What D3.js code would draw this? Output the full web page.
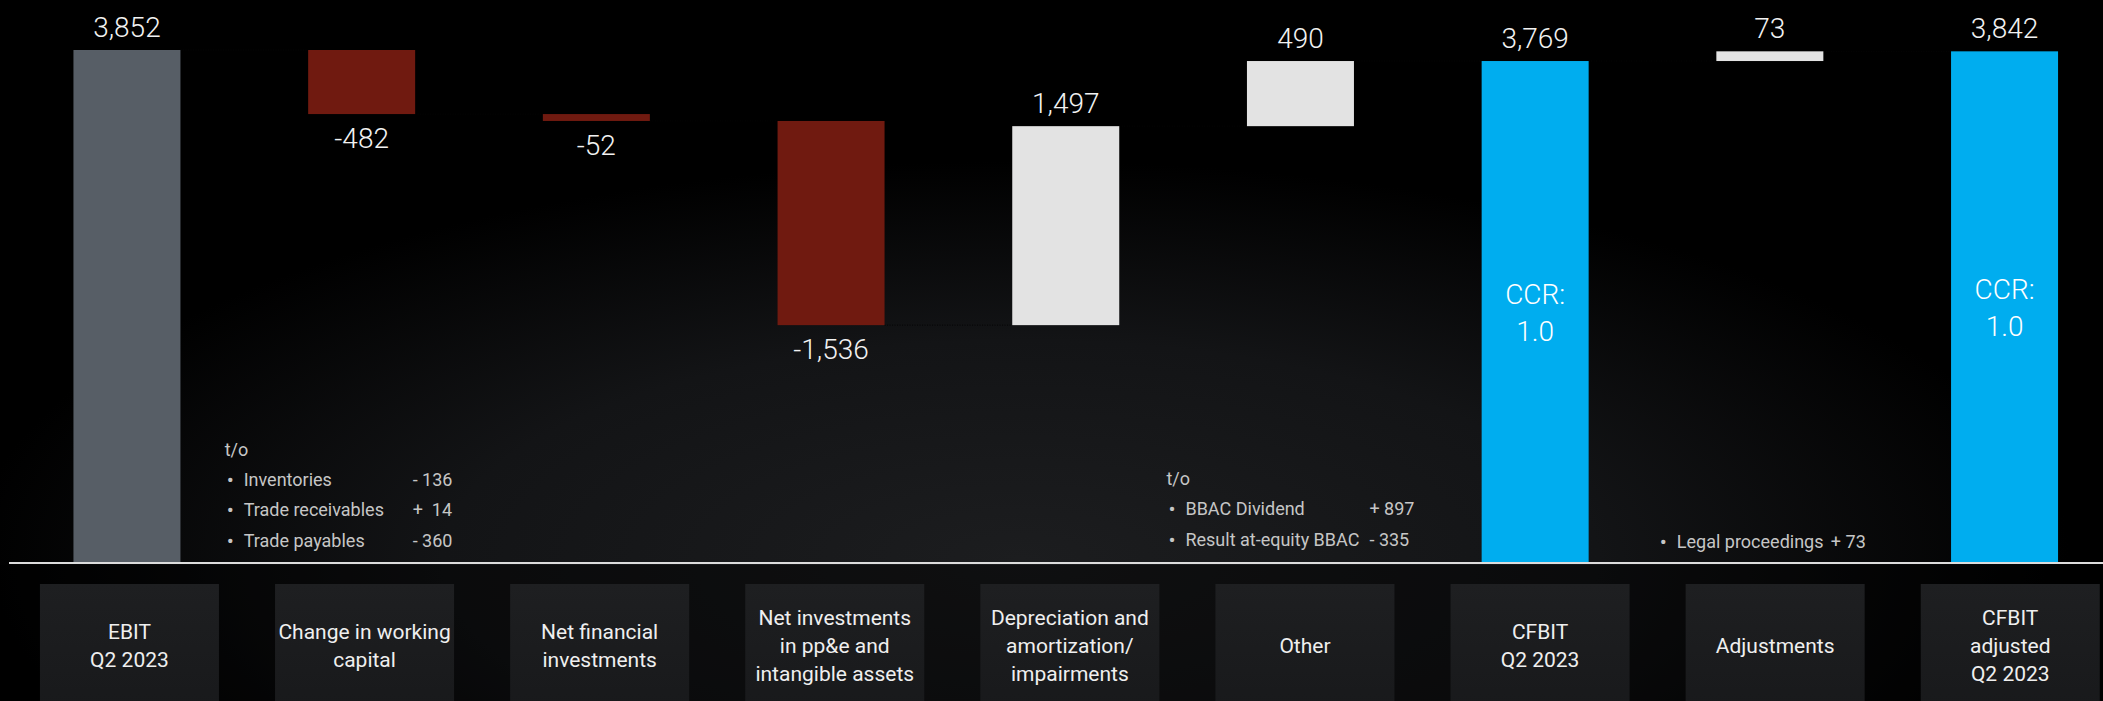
<!DOCTYPE html>
<html>
<head>
<meta charset="utf-8">
<script src="https://cdn.jsdelivr.net/npm/d3@7.9.0/dist/d3.min.js"></script>
<style>
  body { margin: 0; background: #000; overflow: hidden; }
  text { font-family: Roboto, "Liberation Sans", sans-serif; }
</style>
</head>
<body>
<svg id="chart" width="2103" height="701"></svg>
<script>
// waterfall steps
const categories = ["ebit", "wc", "fin", "capex", "da", "other", "cfbit", "adj", "cfbitAdj"];
const categoryLines = [
  ["EBIT", "Q2 2023"],
  ["Change in working", "capital"],
  ["Net financial", "investments"],
  ["Net investments", "in pp&e and", "intangible assets"],
  ["Depreciation and", "amortization/", "impairments"],
  ["Other"],
  ["CFBIT", "Q2 2023"],
  ["Adjustments"],
  ["CFBIT", "adjusted", "Q2 2023"]
];
const values = [3852, -482, -52, -1536, 1497, 490, 3769, 73, 3842];
const kinds = ["start", "neg", "neg", "neg", "pos", "pos", "total", "pos", "total"];
const ccrLines = ["CCR:", "1.0"];

// "t/o" side notes
const wcNoteLabels = ["Inventories", "Trade receivables", "Trade payables"];
const wcNoteValues = ["- 136", "+  14", "- 360"];
const otherNoteLabels = ["BBAC Dividend", "Result at-equity BBAC"];
const otherNoteValues = ["+ 897", "- 335"];
const adjNoteLabels = ["Legal proceedings"];
const adjNoteValues = ["+ 73"];

const W = 2103, H = 701;
const svg = d3.select("#chart");
const defs = svg.append("defs");

// background glow
const glow = defs.append("radialGradient")
  .attr("id", "glow")
  .attr("gradientUnits", "userSpaceOnUse")
  .attr("cx", 1020).attr("cy", 560).attr("r", 1050)
  .attr("gradientTransform", "translate(1020,560) scale(1,0.38) translate(-1020,-560)");
glow.append("stop").attr("offset", 0).attr("stop-color", "#1c1d1f");
glow.append("stop").attr("offset", 0.55).attr("stop-color", "#131416");
glow.append("stop").attr("offset", 1).attr("stop-color", "#000");

const boxGrad = defs.append("linearGradient")
  .attr("id", "boxGrad").attr("x1", 0).attr("y1", 0).attr("x2", 0).attr("y2", 1);
boxGrad.append("stop").attr("offset", 0).attr("stop-color", "#1e1f21");
boxGrad.append("stop").attr("offset", 1).attr("stop-color", "#18191b");

svg.append("rect").attr("width", W).attr("height", H).attr("fill", "#000");
svg.append("rect").attr("width", W).attr("height", H).attr("fill", "url(#glow)");
svg.append("rect").attr("y", 565).attr("width", W).attr("height", H - 565)
  .attr("fill", "#000").attr("opacity", 0.45);

const x = d3.scaleBand().domain(categories).range([9.6, 9.6 + 9 * 234.7]).padding(0);
const y = d3.scaleLinear().domain([0, 3852]).range([562, 50]);
const barW = 107, boxW = 179;
const cx = d => x(d) + x.bandwidth() / 2;

// build waterfall
let running = 0;
const steps = categories.map((c, i) => {
  let y0, y1;
  if (kinds[i] === "start" || kinds[i] === "total") {
    y0 = 0; y1 = values[i]; running = values[i];
  } else {
    y0 = running; y1 = running + values[i]; running = y1;
  }
  return { key: c, value: values[i], kind: kinds[i], y0, y1, end: running };
});

const colors = { start: "#575e66", neg: "#701a10", pos: "#e3e3e3", total: "#00adef" };

// connectors (dark dotted, only visible against the glow)
svg.append("g").selectAll("line")
  .data(steps.slice(0, -1))
  .join("line")
  .attr("x1", d => cx(d.key) + barW / 2)
  .attr("x2", (d, i) => cx(steps[i + 1].key) - barW / 2)
  .attr("y1", d => y(d.end)).attr("y2", d => y(d.end))
  .attr("stroke", "#050505").attr("stroke-width", 1).attr("stroke-dasharray", "1,1.5");

// bars
svg.append("g").selectAll("rect")
  .data(steps)
  .join("rect")
  .attr("x", d => cx(d.key) - barW / 2)
  .attr("width", barW)
  .attr("y", d => y(Math.max(d.y0, d.y1)))
  .attr("height", d => Math.abs(y(d.y0) - y(d.y1)))
  .attr("fill", d => colors[d.kind]);

// value labels
const fmt = d3.formatLocale({ decimal: ".", thousands: ",", grouping: [3], currency: ["", ""], minus: "-" }).format(",");
svg.append("g").selectAll("text")
  .data(steps)
  .join("text")
  .attr("x", d => cx(d.key))
  .attr("y", d => d.value < 0 ? y(d.y1) + 34 : y(Math.max(d.y0, d.y1)) - 13)
  .attr("text-anchor", "middle")
  .attr("font-size", 28).attr("font-weight", 300)
  .attr("fill", "#f2f2f2")
  .text(d => fmt(d.value));

// CCR labels inside total bars
steps.filter(d => d.kind === "total").forEach(d => {
  const mid = (y(d.y0) + y(d.y1)) / 2;
  ccrLines.forEach((t, j) => {
    svg.append("text")
      .attr("x", cx(d.key)).attr("y", mid - 8 + j * 37)
      .attr("text-anchor", "middle")
      .attr("font-size", 28).attr("font-weight", 300)
      .attr("fill", "#fff").text(t);
  });
});

// axis line
svg.append("line")
  .attr("x1", 9).attr("x2", W).attr("y1", 563).attr("y2", 563)
  .attr("stroke", "#dcdcdc").attr("stroke-width", 2);

// category boxes
const boxes = svg.append("g").selectAll("g")
  .data(categories)
  .join("g")
  .attr("transform", (d, i) => `translate(${cx(d) + 2.5 + i * 0.4},0)`);
boxes.append("rect")
  .attr("x", -boxW / 2).attr("y", 584).attr("width", boxW).attr("height", 130)
  .attr("fill", "url(#boxGrad)");
boxes.each(function (d, i) {
  const lines = categoryLines[i];
  const top = 646 - (lines.length - 1) * 28 / 2;
  d3.select(this).selectAll("text")
    .data(lines)
    .join("text")
    .attr("x", 0).attr("y", (t, j) => top + j * 28 + 7)
    .attr("text-anchor", "middle")
    .attr("font-size", 21).attr("fill", "#efefef")
    .text(t => t);
});

// side notes
function notes(key, dxBullet, rowY, labels, vals, numDx, withTo) {
  const g = svg.append("g").attr("font-size", 18).attr("fill", "#c6c6c6");
  const bx = cx(key) + dxBullet;
  if (withTo) {
    g.append("text").attr("x", bx - 3).attr("y", rowY[0] - 30 + 6).text("t/o");
  }
  labels.forEach((t, j) => {
    g.append("text").attr("x", bx - 1).attr("y", rowY[j] + 7).attr("font-size", 21).text("\u2022");
    g.append("text").attr("x", bx + 16).attr("y", rowY[j] + 6).text(t);
    g.append("text").attr("x", cx(key) + numDx).attr("y", rowY[j] + 6)
      .attr("xml:space", "preserve").style("white-space", "pre").text(vals[j]);
  });
}
notes("wc", -134, [480, 510, 541], wcNoteLabels, wcNoteValues, 51, true);
notes("other", -131, [509, 540], otherNoteLabels, otherNoteValues, 69, true);
notes("adj", -109, [542], adjNoteLabels, adjNoteValues, 61, false);
</script>
</body>
</html>
